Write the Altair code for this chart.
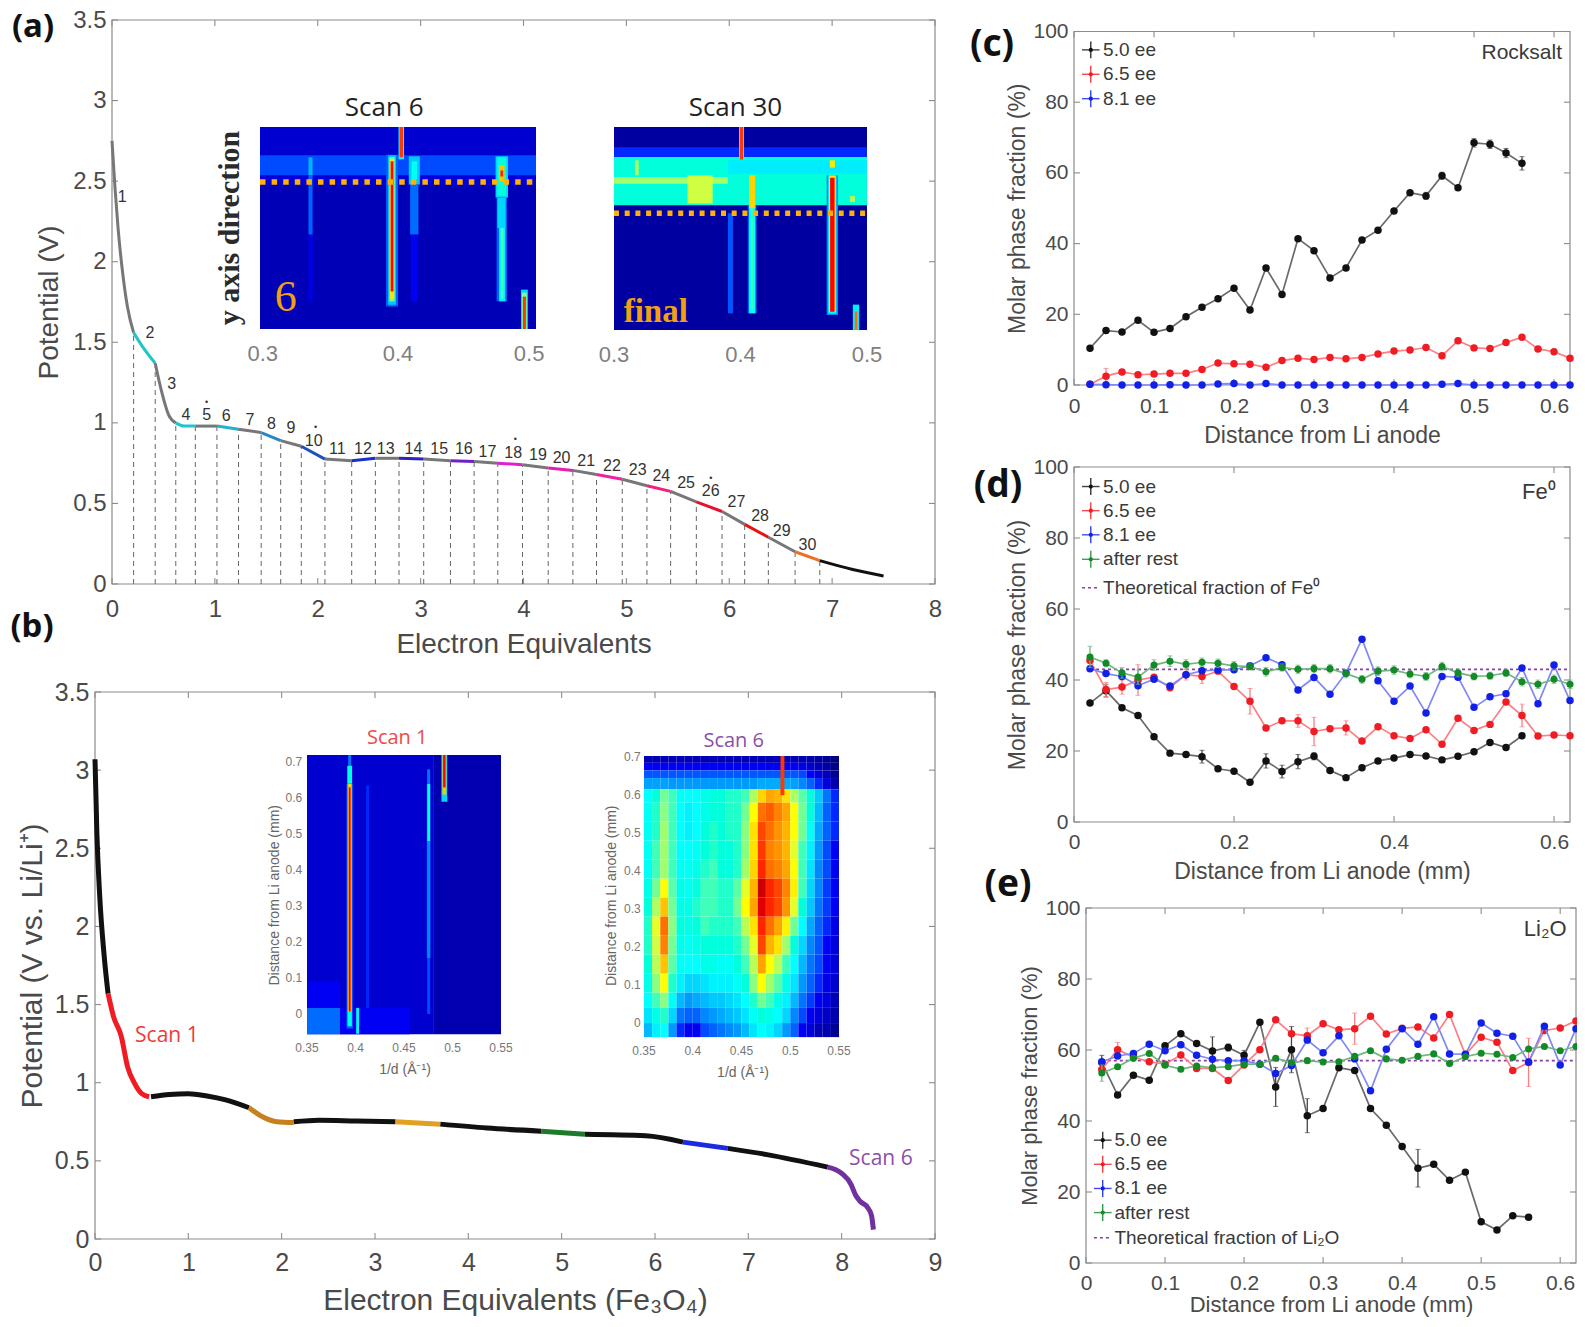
import altair as alt
import pandas as pd

W, H = 1569, 1311
SANS = "Liberation Sans"
INK = "#4a4a4a"
FRAME = "#8c8c8c"

# ---------- panel (a) ----------
a_bound_x = [0.21,0.42,0.62,0.81,1.02,1.23,1.45,1.64,1.84,2.07,2.33,2.56,2.79,3.03,3.29,3.52,3.75,3.99,4.24,4.48,4.71,4.96,5.2,5.43,5.68,5.93,6.15,6.38,6.64,6.88]
a_bound_y = [1.56,1.37,1.0,0.98,0.98,0.96,0.94,0.89,0.855,0.775,0.765,0.78,0.78,0.775,0.765,0.76,0.75,0.74,0.72,0.705,0.68,0.65,0.61,0.575,0.51,0.45,0.37,0.29,0.2,0.145]
a_extra_x = [0,0.03,0.06,0.1,0.15,0.3,0.48,0.55,0.7,7.2,7.5]
a_extra_y = [2.75,2.45,2.2,1.95,1.72,1.47,1.2,1.05,0.98,0.09,0.05]
a_seg_colors = ["#777777","#1fc5c9","#777777","#1fc5c9","#777777","#22b0cc","#777777","#2a85c8","#777777","#2050c0","#777777","#1a30c8","#777777","#3020c0","#777777","#7020c0","#777777","#e020d0","#777777","#e020b0","#777777","#f020a0","#777777","#f02080","#777777","#e81030","#777777","#e81010","#777777","#f07020","#111111"]
a_num_x = [0.10,0.37,0.58,0.72,0.92,1.11,1.34,1.55,1.74,1.96,2.19,2.44,2.66,2.93,3.18,3.42,3.65,3.90,4.14,4.37,4.61,4.86,5.11,5.34,5.58,5.82,6.07,6.30,6.51,6.76]
a_num_y = [2.40,1.56,1.24,1.05,1.05,1.04,1.02,0.995,0.965,0.89,0.835,0.84,0.84,0.84,0.835,0.835,0.82,0.81,0.80,0.78,0.765,0.735,0.71,0.67,0.625,0.58,0.51,0.42,0.33,0.245]
a_star_x = [0.92,1.98,3.92,5.82]
a_star_y = [1.13,0.975,0.897,0.66]

# ---------- panel (b) ----------
b_segments = [
    ("#111111",[0,0.02,0.05,0.1,0.14],[3.07,2.6,2.2,1.8,1.57]),
    ("#f01c24",[0.14,0.2,0.28,0.35,0.42,0.5,0.58],[1.57,1.42,1.3,1.1,1.0,0.93,0.91]),
    ("#111111",[0.6,0.8,1,1.2,1.4,1.65],[0.91,0.925,0.93,0.915,0.89,0.84]),
    ("#c87f1e",[1.65,1.8,1.95,2.13],[0.84,0.78,0.75,0.745]),
    ("#111111",[2.13,2.4,2.8,3.22],[0.75,0.76,0.755,0.75]),
    ("#e0a020",[3.22,3.7],[0.75,0.735]),
    ("#111111",[3.7,4.2,4.78],[0.735,0.71,0.69]),
    ("#1d7a28",[4.78,5.25],[0.69,0.67]),
    ("#111111",[5.25,5.9,6.3],[0.67,0.66,0.62]),
    ("#1a2be0",[6.3,6.78],[0.62,0.58]),
    ("#111111",[6.78,7.2,7.85],[0.58,0.54,0.46]),
    ("#7030a0",[7.85,8.0,8.1,8.15,8.2,8.28,8.32,8.34],[0.46,0.42,0.35,0.28,0.24,0.2,0.15,0.06]),
]

# ---------- panels (c), (d), (e) ----------
dist = [0.02,0.04,0.06,0.08,0.10,0.12,0.14,0.16,0.18,0.20,0.22,0.24,0.26,0.28,0.30,0.32,0.34,0.36,0.38,0.40,0.42,0.44,0.46,0.48,0.50,0.52,0.54,0.56,0.58,0.60,0.62]
c_black = [10.4,15.4,15.0,18.3,14.9,16.0,19.3,22.0,24.4,27.4,21.2,33.1,25.6,41.4,38.0,30.3,33.1,41.0,43.8,49.2,54.4,53.5,59.2,55.8,68.5,68.1,65.6,62.7]
c_red = [0.2,2.5,3.7,2.9,3.1,3.3,3.3,4.4,6.2,6.0,5.9,5.0,6.9,7.6,7.2,7.8,7.4,7.8,8.8,9.6,9.9,10.6,8.3,12.5,10.5,10.3,12.0,13.5,10.2,9.4,7.6]
c_blue = [0.2,0.1,0,0,0,0.1,0,0,0.3,0.4,0,0.4,0,0,0,0,0,0,0,0,0,0,0.2,0.4,0,0,0,0,0,0,0]
c_err_black = {24:1.2,25:1.2,26:1.3,27:1.9,21:1,22:1}
c_err_red = {1:2.2}
d_black = [33.5,37.0,32.2,30.0,24.0,19.4,19.0,18.4,15.0,14.3,11.2,17.2,14.2,17.0,18.5,14.5,12.5,15.3,17.2,18.0,19.0,18.6,17.5,18.5,19.8,22.4,21.0,24.3]
d_red = [45.5,37.3,38.0,40.0,40.8,37.8,41.5,41.0,42.5,38.2,34.0,26.5,28.5,28.5,25.5,26.3,26.5,22.8,26.8,24.3,23.5,26.0,21.9,29.2,25.8,27.5,33.8,30.0,24.2,24.5,24.3]
d_blue = [43.2,41.8,41.0,38.4,40.2,38.3,41.5,42.6,42.8,42.9,44.0,46.3,44.3,37.2,40.7,36.0,42.0,51.5,39.8,34.0,38.3,30.7,41.0,40.8,32.3,35.3,36.1,43.4,33.3,44.2,34.2]
d_green = [46.5,44.7,42.0,40.8,44.2,45.3,44.4,45.0,44.7,44.0,43.8,42.3,43.5,43.0,43.2,43.2,41.8,40.2,42.5,42.8,41.7,41.0,43.8,42.0,41.0,41.2,42.0,39.5,38.8,40.2,38.8]
d_err_black = {1:1.8,7:1.8,11:2,12:1.8,13:2,14:1}
d_err_red = {0:1.5,1:2,2:2,3:4.3,6:1.5,7:2,10:3.6,13:1.8,14:4,16:2,27:3.2}
d_err_green = {0:3,1:1,2:1.5,3:2,4:1.5,5:1.5,6:1.3,7:1.2,8:1.2,9:1.2,10:1,11:1.2,12:1,13:1.2,14:1.2,15:1.2,16:1.2,17:1.1,18:1.2,19:1.2,20:1.1,21:1.1,22:1.2,23:1.1,24:1,25:1,26:1,27:1.2,28:1.2,29:1.2,30:1.2}
e_black = [56.5,47.3,52.9,51.5,61.2,64.6,61.8,59.7,60.7,58.5,67.8,49.6,60.1,41.5,43.5,55.0,54.2,43.5,38.8,32.8,26.7,27.8,23.3,25.6,11.6,9.3,13.3,12.9]
e_red = [54.5,60.1,58.0,56.7,56.0,58.6,54.8,54.8,51.4,55.8,60.1,68.5,64.6,64.0,67.4,65.7,66.0,69.5,64.5,66.1,66.5,63.4,70.0,58.7,63.6,62.2,54.2,56.5,65.5,66.2,68.2]
e_blue = [56.7,58.3,59.0,61.6,59.8,61.5,58.5,57.4,57.0,57.0,56.0,53.4,55.6,62.8,59.2,64.0,57.5,48.5,60.2,66.0,61.6,69.4,58.9,58.8,67.6,64.7,63.9,56.6,66.7,55.8,66.0]
e_green = [53.5,55.3,57.7,59.0,55.7,54.6,55.5,55.0,55.3,56.0,56.0,57.7,56.4,57.0,56.6,56.7,58.2,59.8,57.5,57.1,58.2,58.9,56.2,58.1,59.1,58.8,57.9,60.3,61.0,59.8,61.0]
e_err_black = {0:2,7:4,8:1,9:1.4,11:5.5,12:6.5,13:4.8,20:5.3}
e_err_red = {1:2,13:2.2,16:4.4,27:6.8}
e_err_green = {0:2.3}

# ---------- heat-map insets: (centre, width, y from, y to, intensity) ----------
scan6a = [(0.4,0.2,0,1,0.05),(0.4,0.2,0.86,1,0.07),(0.4,0.2,0.76,0.86,0.14),(0.4,0.2,0.71,0.76,0.08),
 (0.3366,0.003,0.76,0.85,0.25),(0.3366,0.003,0.467,0.76,0.16),(0.3366,0.003,0.137,0.467,0.09),
 (0.4118,0.008,0.715,0.855,0.28),(0.4118,0.004,0.74,0.83,0.38),(0.4118,0.006,0.467,0.715,0.17),(0.4118,0.005,0.137,0.467,0.1),
 (0.3957,0.0087,0.112,0.863,0.16),(0.3957,0.0058,0.12,0.86,0.28),(0.3957,0.0039,0.137,0.85,0.5),(0.3957,0.0029,0.15,0.84,0.66),(0.3957,0.002,0.186,0.83,0.87),
 (0.4024,0.004,0.84,1,0.36),(0.4024,0.0024,0.85,1,0.85),
 (0.4752,0.009,0.65,0.855,0.3),(0.4752,0.0065,0.66,0.85,0.42),(0.4752,0.004,0.73,0.81,0.7),(0.4752,0.002,0.755,0.785,0.86),
 (0.4752,0.0075,0.137,0.65,0.16),(0.475,0.006,0.5,0.65,0.3),(0.4755,0.0045,0.137,0.5,0.34),(0.4755,0.002,0.15,0.5,0.46),
 (0.4916,0.005,0,0.195,0.3),(0.4916,0.0035,0,0.18,0.5),(0.4916,0.0022,0,0.16,0.85)]
scan30 = [(0.4,0.2,0,1,0.03),(0.4,0.2,0.852,0.9,0.12),(0.4,0.2,0.615,0.852,0.42),(0.445,0.11,0.77,0.836,0.33),
 (0.345,0.09,0.72,0.754,0.54),(0.368,0.02,0.623,0.762,0.58),(0.318,0.003,0.762,0.836,0.55),(0.4885,0.004,0.63,0.66,0.55),
 (0.392,0.004,0.082,0.575,0.15),(0.4008,0.004,0.836,1,0.35),(0.4008,0.0024,0.84,1,0.85),
 (0.4092,0.007,0.082,0.615,0.16),(0.4092,0.005,0.082,0.615,0.37),(0.4092,0.002,0.1,0.615,0.45),(0.4092,0.005,0.6,0.762,0.68),
 (0.4726,0.009,0.074,0.762,0.2),(0.4726,0.0065,0.08,0.762,0.38),(0.4726,0.005,0.09,0.76,0.65),(0.4726,0.0035,0.09,0.75,0.87),(0.4726,0.004,0.8,0.836,0.65),
 (0.4913,0.005,0,0.125,0.33),(0.4913,0.002,0,0.09,0.8)]
scan1 = [(0.415,0.13,-0.056,0.72,0.07),(0.515,0.07,-0.056,0.72,0.045),(0.367,0.034,-0.056,0.017,0.17),(0.42,0.072,-0.056,0.017,0.1),(0.367,0.034,0.017,0.09,0.1),
 (0.4125,0.003,0.017,0.635,0.12),(0.4754,0.003,0.64,0.68,0.18),(0.4754,0.004,0.155,0.64,0.14),(0.4754,0.003,0.48,0.64,0.36),(0.4754,0.003,0.155,0.48,0.2),(0.4754,0.003,0,0.155,0.14),
 (0.394,0.003,0.68,0.72,0.18),(0.394,0.005,0.64,0.69,0.42),(0.394,0.0065,-0.04,0.64,0.16),(0.394,0.0045,-0.034,0.64,0.4),(0.394,0.0032,0.007,0.64,0.68),(0.394,0.002,0.007,0.63,0.87),
 (0.4022,0.003,-0.055,0.017,0.35),(0.4916,0.006,0.59,0.72,0.3),(0.4916,0.004,0.61,0.72,0.7),(0.4916,0.0025,0.63,0.72,0.87)]
s6b_col_edges = [0.35,0.3583,0.3667,0.375,0.3833,0.3917,0.4,0.4083,0.4167,0.425,0.4333,0.4417,0.45,0.4583,0.4667,0.475,0.4833,0.4917,0.5,0.5083,0.5167,0.525,0.5333,0.5417,0.55]
s6b_row_edges = [0.703,0.685,0.665,0.645,0.615,0.58,0.53,0.48,0.43,0.38,0.33,0.28,0.23,0.18,0.13,0.08,0.04,0,-0.037]
s6b_grid = [
 [.05,.05,.05,.05,.05,.05,.05,.05,.05,.05,.05,.05,.05,.05,.05,.05,.05,.05,.05,.05,.04,.03,.02,.0],
 [.1,.1,.1,.1,.1,.1,.1,.1,.1,.1,.1,.1,.1,.1,.1,.1,.1,.1,.1,.09,.07,.05,.03,.01],
 [.15,.15,.15,.15,.15,.15,.15,.15,.15,.15,.15,.15,.15,.15,.15,.15,.15,.15,.15,.14,.11,.08,.05,.02],
 [.23,.23,.23,.22,.22,.22,.22,.22,.22,.22,.22,.22,.22,.22,.24,.24,.24,.24,.23,.2,.16,.12,.08,.04],
 [.36,.42,.5,.46,.38,.36,.36,.4,.42,.42,.44,.44,.46,.55,.68,.74,.72,.66,.55,.48,.42,.28,.18,.12],
 [.38,.44,.52,.46,.36,.34,.36,.4,.42,.42,.44,.44,.5,.62,.8,.82,.78,.74,.62,.5,.42,.26,.16,.12],
 [.38,.44,.54,.46,.36,.34,.36,.42,.44,.42,.44,.44,.52,.66,.84,.8,.76,.72,.62,.5,.38,.24,.16,.12],
 [.38,.46,.54,.46,.36,.36,.38,.42,.44,.42,.42,.44,.52,.66,.85,.78,.76,.72,.6,.46,.34,.22,.14,.1],
 [.38,.46,.54,.46,.38,.38,.4,.44,.46,.42,.42,.44,.54,.68,.86,.8,.78,.74,.62,.46,.32,.2,.14,.1],
 [.4,.5,.62,.48,.4,.38,.42,.46,.46,.44,.44,.48,.6,.72,.92,.86,.84,.78,.64,.46,.3,.2,.13,.1],
 [.42,.55,.7,.5,.4,.4,.44,.46,.46,.44,.44,.5,.62,.74,.9,.86,.84,.76,.6,.42,.28,.18,.13,.1],
 [.44,.6,.8,.52,.42,.4,.42,.46,.44,.44,.44,.46,.56,.66,.86,.8,.74,.64,.5,.36,.24,.16,.12,.09],
 [.44,.58,.78,.5,.4,.38,.4,.42,.42,.42,.42,.44,.5,.6,.84,.72,.66,.54,.42,.3,.2,.15,.11,.08],
 [.42,.56,.7,.48,.38,.36,.36,.4,.4,.38,.38,.42,.46,.56,.74,.62,.56,.46,.36,.26,.18,.14,.1,.08],
 [.4,.52,.62,.44,.34,.3,.3,.32,.34,.34,.34,.38,.42,.52,.62,.54,.48,.4,.32,.22,.16,.12,.09,.07],
 [.36,.46,.52,.38,.26,.22,.24,.26,.28,.28,.3,.32,.36,.44,.5,.46,.4,.34,.26,.18,.13,.1,.08,.05],
 [.32,.4,.44,.3,.18,.16,.16,.2,.22,.24,.26,.28,.32,.38,.42,.4,.36,.3,.2,.14,.1,.08,.06,.04],
 [.26,.34,.36,.22,.12,.1,.1,.14,.16,.18,.2,.22,.26,.32,.36,.34,.3,.22,.16,.1,.08,.05,.04,.02]]
s6b_streak = [(0.492,0.004,0.6,0.703,0.85)]

JET = alt.Scale(domain=[0,0.11,0.36,0.62,0.87,1], range=["#00007f","#0000ff","#00ffff","#ffff00","#ff0000","#7f0000"])


def sc(dom, rng):
    return alt.Scale(domain=dom, range=rng, nice=False, zero=False)


def texts(rows, sx, sy, size, color=INK, font=SANS, align="center", angle=0, weight="normal"):
    df = pd.DataFrame(rows, columns=["x", "y", "t"])
    kw = dict(angle=angle) if angle else {}
    return alt.Chart(df).mark_text(fontSize=size, color=color, font=font, align=align, baseline="middle", fontWeight=weight, **kw).encode(
        x=alt.X("x:Q", scale=sx, axis=None), y=alt.Y("y:Q", scale=sy, axis=None), text="t:N")


def frame(l, t, r, b, xdom, ydom, xticks, yticks, xtitle, ytitle, lab, tit, xpad, ypad, xlabpad=6):
    sx, sy = sc(xdom, [l, r]), sc(ydom, [b, t])
    xaxis = alt.Axis(values=xticks, orient="bottom", offset=b - H, title=xtitle, format="~f", tickSize=0, domain=False, grid=False,
                     labelFontSize=lab, labelColor=INK, labelFont=SANS, labelFlush=False, labelOverlap=False, labelPadding=xlabpad,
                     titleFontSize=tit, titleColor=INK, titleFont=SANS, titleFontWeight="normal", titlePadding=xpad)
    yaxis = alt.Axis(values=yticks, orient="left", offset=-l, title=ytitle, format="~f", tickSize=0, domain=False, grid=False,
                     labelFontSize=lab, labelColor=INK, labelFont=SANS, labelFlush=False, labelOverlap=False, labelPadding=6,
                     titleFontSize=tit, titleColor=INK, titleFont=SANS, titleFontWeight="normal", titlePadding=ypad)
    box = alt.Chart(pd.DataFrame({"x": [xdom[0]], "x2": [xdom[1]], "y": [ydom[0]], "y2": [ydom[1]]})).mark_rect(
        fillOpacity=0, stroke=FRAME, strokeWidth=1.2).encode(
        x=alt.X("x:Q", scale=sx, axis=xaxis), x2="x2:Q", y=alt.Y("y:Q", scale=sy, axis=yaxis), y2="y2:Q")
    lx, ly = 6 / abs(r - l) * (xdom[1] - xdom[0]), 6 / abs(b - t) * (ydom[1] - ydom[0])
    xt = []
    for v in xticks:
        xt += [dict(x=v, y=ydom[0], y2=ydom[0] + ly), dict(x=v, y=ydom[1] - ly, y2=ydom[1])]
    yt = []
    for v in yticks:
        yt += [dict(y=v, x=xdom[0], x2=xdom[0] + lx), dict(y=v, x=xdom[1] - lx, x2=xdom[1])]
    t1 = alt.Chart(pd.DataFrame(xt)).mark_rule(color=FRAME, strokeWidth=1.1).encode(
        x=alt.X("x:Q", scale=sx, axis=None), y=alt.Y("y:Q", scale=sy, axis=None), y2="y2:Q")
    t2 = alt.Chart(pd.DataFrame(yt)).mark_rule(color=FRAME, strokeWidth=1.1).encode(
        y=alt.Y("y:Q", scale=sy, axis=None), x=alt.X("x:Q", scale=sx, axis=None), x2="x2:Q")
    return sx, sy, box, [t1, t2]


def heat(rects, sx, sy):
    rows = [dict(x=c - w / 2, x2=c + w / 2, y=a, y2=b, v=v) for c, w, a, b, v in rects]
    return alt.Chart(pd.DataFrame(rows)).mark_rect(strokeWidth=0).encode(
        x=alt.X("x:Q", scale=sx, axis=None), x2="x2:Q", y=alt.Y("y:Q", scale=sy, axis=None), y2="y2:Q",
        color=alt.Color("v:Q", scale=JET, legend=None))


def hline(y, x1, x2, sx, sy, **kw):
    return alt.Chart(pd.DataFrame({"x": [x1], "x2": [x2], "y": [y]})).mark_rule(**kw).encode(
        x=alt.X("x:Q", scale=sx, axis=None), x2="x2:Q", y=alt.Y("y:Q", scale=sy, axis=None))


def series(vals, errs, color, sx, sy, marker=56):
    light = {"#111111": "#6a6a6a", "#f01c24": "#fb7f84", "#1020e8": "#8088f4", "#128a28": "#72b87e"}[color]
    df = pd.DataFrame({"x": dist[:len(vals)], "y": vals})
    line = alt.Chart(df).mark_line(color=light, strokeWidth=1.7).encode(
        x=alt.X("x:Q", scale=sx, axis=None), y=alt.Y("y:Q", scale=sy, axis=None))
    out = [line]
    if errs:
        ed = pd.DataFrame([dict(x=dist[i], lo=vals[i] - e, hi=vals[i] + e) for i, e in errs.items()])
        out.append(alt.Chart(ed).mark_rule(color=light if color != "#111111" else "#444444", strokeWidth=1.3).encode(
            x=alt.X("x:Q", scale=sx, axis=None), y=alt.Y("lo:Q", scale=sy, axis=None), y2="hi:Q"))
        for f in ["lo", "hi"]:
            out.append(alt.Chart(ed).mark_tick(color=light if color != "#111111" else "#444444", size=5, thickness=1, orient="horizontal").encode(
                x=alt.X("x:Q", scale=sx, axis=None), y=alt.Y(f + ":Q", scale=sy, axis=None)))
    out.append(alt.Chart(df).mark_circle(color=color, size=marker, opacity=1).encode(
        x=alt.X("x:Q", scale=sx, axis=None), y=alt.Y("y:Q", scale=sy, axis=None)))
    return out


def legend(entries, hx1, hx2, tx, sx, sy, theor=None, size=19):
    out = []
    for label, color, y in entries:
        out += [hline(y, hx1, hx2, sx, sy, color=color, strokeWidth=1.4, opacity=0.8)]
        cx = (hx1 + hx2) / 2
        d = pd.DataFrame({"x": [cx], "y": [y], "y0": [y - 2.4], "y1": [y + 2.4]})
        out.append(alt.Chart(d).mark_rule(color=color, strokeWidth=1.2).encode(
            x=alt.X("x:Q", scale=sx, axis=None), y=alt.Y("y0:Q", scale=sy, axis=None), y2="y1:Q"))
        out.append(alt.Chart(d).mark_circle(color=color, size=18, opacity=1).encode(
            x=alt.X("x:Q", scale=sx, axis=None), y=alt.Y("y:Q", scale=sy, axis=None)))
        out.append(texts([(tx, y, label)], sx, sy, size, color="#3a3a3a", align="left"))
    if theor:
        label, y = theor
        out.append(hline(y, hx1, hx2, sx, sy, color="#8a3fa8", strokeWidth=1.6, strokeDash=[3, 3]))
        out.append(texts([(tx, y, label)], sx, sy, size, color="#3a3a3a", align="left"))
    return out


# ---------- build (a) ----------
sx, sy, box_a, a_layers = frame(104, 12, 927, 576, [0, 8], [0, 3.5], [0,1,2,3,4,5,6,7,8], [0,0.5,1,1.5,2,2.5,3,3.5],
                         "Electron Equivalents", "Potential (V)", 24, 28, 9, 9, xlabpad=13)
pts = sorted(list(zip(a_bound_x, a_bound_y)) + list(zip(a_extra_x, a_extra_y)))
edges = [0] + a_bound_x + [7.5]
rows = []
for i, col in enumerate(a_seg_colors):
    for x, y in pts:
        if edges[i] <= x <= edges[i + 1]:
            rows.append(dict(x=x, y=y, s=i, c=col))
a_dash = alt.Chart(pd.DataFrame({"x": a_bound_x, "y0": [0] * len(a_bound_x), "y": a_bound_y})).mark_rule(
    color="#666666", strokeWidth=1, strokeDash=[5, 4]).encode(
    x=alt.X("x:Q", scale=sx, axis=None), y=alt.Y("y0:Q", scale=sy, axis=None), y2="y:Q")
a_line = alt.Chart(pd.DataFrame(rows)).mark_line(strokeWidth=3, interpolate="monotone").encode(
    x=alt.X("x:Q", scale=sx, axis=None), y=alt.Y("y:Q", scale=sy, axis=None),
    color=alt.Color("c:N", scale=None), detail="s:N")
a_nums = texts([(x, y, str(i + 1)) for i, (x, y) in enumerate(zip(a_num_x, a_num_y))], sx, sy, 16, color="#333333")
a_stars = texts([(x, y, "•") for x, y in zip(a_star_x, a_star_y)], sx, sy, 9, color="#333333")
panel_a = alt.layer(*a_layers, a_dash, a_line, a_nums, a_stars)

# inset Scan 6
ix, iy = sc([0.3, 0.5], [252, 528]), sc([0, 1], [321, 119])
inset_a1 = alt.layer(heat(scan6a, ix, iy),
    hline(0.728, 0.3, 0.5, ix, iy, color="#ffb000", strokeWidth=5.5, strokeDash=[5.5, 6.1]),
    texts([(0.3186, 0.153, "6")], ix, iy, 44, color="#f0a010", font="Liberation Serif"),
    texts([(0.278, 0.5, "y axis direction")], ix, iy, 30, color="#2a2a2a", font="Liberation Serif", angle=270, weight="bold"),
    texts([(0.39, 1.094, "Scan 6")], ix, iy, 26, color="#222222", font="Open Sans"),
    texts([(0.302, -0.124, "0.3"), (0.4, -0.124, "0.4"), (0.495, -0.124, "0.5")], ix, iy, 22, color="#808080"))
# inset Scan 30
jx, jy = sc([0.3, 0.5], [606, 859]), sc([0, 1], [322, 119])
inset_a2 = alt.layer(heat(scan30, jx, jy),
    hline(0.575, 0.3, 0.5, jx, jy, color="#ffb000", strokeWidth=5.5, strokeDash=[5, 5.7]),
    texts([(0.333, 0.09, "final")], jx, jy, 33, color="#f0a010", font="Liberation Serif", weight="bold"),
    texts([(0.396, 1.093, "Scan 30")], jx, jy, 26, color="#222222", font="Open Sans"),
    texts([(0.3, -0.124, "0.3"), (0.4, -0.124, "0.4"), (0.5, -0.124, "0.5")], jx, jy, 22, color="#808080"))

# ---------- build (b) ----------
bx, by, box_b, b_layers = frame(87, 684, 927, 1231, [0, 9], [0, 3.5], [0,1,2,3,4,5,6,7,8,9], [0,0.5,1,1.5,2,2.5,3,3.5],
                         "Electron Equivalents (Fe₃O₄)", "Potential (V vs. Li/Li⁺)", 25, 30, 10, 7, xlabpad=11)
rows = []
for i, (col, xs, ys) in enumerate(b_segments):
    rows += [dict(x=x, y=y, s=i, c=col) for x, y in zip(xs, ys)]
b_line = alt.Chart(pd.DataFrame(rows)).mark_line(strokeWidth=5, interpolate="monotone").encode(
    x=alt.X("x:Q", scale=bx, axis=None), y=alt.Y("y:Q", scale=by, axis=None),
    color=alt.Color("c:N", scale=None), detail="s:N")
panel_b = alt.layer(*b_layers, b_line,
    texts([(0.77, 1.3, "Scan 1")], bx, by, 21, color="#f03a3a", font="Open Sans"),
    texts([(8.42, 0.515, "Scan 6")], bx, by, 21, color="#8a50a8", font="Open Sans"))

kx, ky = sc([0.35, 0.55], [299, 493]), sc([-0.0556, 0.72], [1026, 747])
inset_b1 = alt.layer(heat(scan1, kx, ky),
    texts([(0.443, 0.767, "Scan 1")], kx, ky, 20, color="#f04a4a", font="Open Sans"),
    texts([(v, -0.0945, t) for v, t in zip([0.35,0.4,0.45,0.5,0.55], ["0.35","0.4","0.45","0.5","0.55"])], kx, ky, 12, color="#777777"),
    texts([(0.345, v, t) for v, t in zip([0,0.1,0.2,0.3,0.4,0.5,0.6,0.7], ["0","0.1","0.2","0.3","0.4","0.5","0.6","0.7"])], kx, ky, 12, color="#777777", align="right"),
    texts([(0.451, -0.1556, "1/d (Å⁻¹)")], kx, ky, 14, color="#666666"),
    texts([(0.317, 0.33, "Distance from Li anode (mm)")], kx, ky, 14, color="#666666", angle=270))

mx, my = sc([0.35, 0.55], [636, 831]), sc([-0.0367, 0.703], [1029, 748])
grid_rows = []
for ri, row in enumerate(s6b_grid):
    for ci, v in enumerate(row):
        grid_rows.append(dict(x=s6b_col_edges[ci], x2=s6b_col_edges[ci + 1], y=s6b_row_edges[ri + 1], y2=s6b_row_edges[ri], v=v))
grid = alt.Chart(pd.DataFrame(grid_rows)).mark_rect(strokeWidth=0).encode(
    x=alt.X("x:Q", scale=mx, axis=None), x2="x2:Q", y=alt.Y("y:Q", scale=my, axis=None), y2="y2:Q",
    color=alt.Color("v:Q", scale=JET, legend=None))
inset_b2 = alt.layer(grid, heat(s6b_streak, mx, my),
    texts([(0.442, 0.742, "Scan 6")], mx, my, 20, color="#8a50a8", font="Open Sans"),
    texts([(v, -0.0735, t) for v, t in zip([0.35,0.4,0.45,0.5,0.55], ["0.35","0.4","0.45","0.5","0.55"])], mx, my, 12, color="#777777"),
    texts([(0.3466, v, t) for v, t in zip([0,0.1,0.2,0.3,0.4,0.5,0.6,0.7], ["0","0.1","0.2","0.3","0.4","0.5","0.6","0.7"])], mx, my, 12, color="#777777", align="right"),
    texts([(0.4515, -0.131, "1/d (Å⁻¹)")], mx, my, 14, color="#666666"),
    texts([(0.317, 0.335, "Distance from Li anode (mm)")], mx, my, 14, color="#666666", angle=270))

# ---------- build (c) ----------
cx_, cy_, box_c, c_layers = frame(1066, 23.5, 1562, 377, [0, 0.62], [0, 100], [0,0.1,0.2,0.3,0.4,0.5,0.6], [0,20,40,60,80,100],
                           "Distance from Li anode", "Molar phase fraction (%)", 21, 23, 8, 3, xlabpad=10)
panel_c = alt.layer(*c_layers,
    *series(c_black, c_err_black, "#111111", cx_, cy_),
    *series(c_red, c_err_red, "#f01c24", cx_, cy_),
    *series(c_blue, {}, "#1020e8", cx_, cy_),
    *legend([("5.0 ee", "#111111", 94.8), ("6.5 ee", "#f01c24", 87.9), ("8.1 ee", "#1020e8", 81)], 0.01, 0.032, 0.0364, cx_, cy_),
    texts([(0.61, 93.9, "Rocksalt")], cx_, cy_, 21, color="#3a3a3a", align="right"))

# ---------- build (d) ----------
dx_, dy_, box_d, d_layers = frame(1066, 459, 1562, 814, [0, 0.62], [0, 100], [0,0.2,0.4,0.6], [0,20,40,60,80,100],
                           "Distance from Li anode (mm)", "Molar phase fraction (%)", 21, 23, 8, 3, xlabpad=9)
panel_d = alt.layer(*d_layers,
    hline(43, 0.02, 0.62, dx_, dy_, color="#8a3fa8", strokeWidth=1.6, strokeDash=[3, 3]),
    *series(d_black, d_err_black, "#111111", dx_, dy_),
    *series(d_red, d_err_red, "#f01c24", dx_, dy_),
    *series(d_blue, {}, "#1020e8", dx_, dy_),
    *series(d_green, d_err_green, "#128a28", dx_, dy_, 50),
    *legend([("5.0 ee", "#111111", 94.5), ("6.5 ee", "#f01c24", 87.7), ("8.1 ee", "#1020e8", 80.9), ("after rest", "#128a28", 74)],
            0.01, 0.032, 0.0364, dx_, dy_, theor=("Theoretical fraction of Fe⁰", 66)),
    texts([(0.581, 93, "Fe⁰")], dx_, dy_, 22, color="#3a3a3a"))

# ---------- build (e) ----------
ex_, ey_, box_e, e_layers = frame(1078, 900, 1568, 1255, [0, 0.62], [0, 100], [0,0.1,0.2,0.3,0.4,0.5,0.6], [0,20,40,60,80,100],
                           "Distance from Li anode (mm)", "Molar phase fraction (%)", 21, 22, 1, 3, xlabpad=9)
panel_e = alt.layer(*e_layers,
    hline(57, 0.02, 0.62, ex_, ey_, color="#8a3fa8", strokeWidth=1.6, strokeDash=[3, 3]),
    *series(e_black, e_err_black, "#111111", ex_, ey_),
    *series(e_red, e_err_red, "#f01c24", ex_, ey_),
    *series(e_blue, {}, "#1020e8", ex_, ey_),
    *series(e_green, e_err_green, "#128a28", ex_, ey_, 50),
    *legend([("5.0 ee", "#111111", 34.6), ("6.5 ee", "#f01c24", 27.8), ("8.1 ee", "#1020e8", 21), ("after rest", "#128a28", 14.2)],
            0.01, 0.0324, 0.036, ex_, ey_, theor=("Theoretical fraction of Li₂O", 7.1)),
    texts([(0.581, 94, "Li₂O")], ex_, ey_, 22, color="#3a3a3a"))

# ---------- panel letters ----------
letter_names = ["(a)", "(b)", "(c)", "(d)", "(e)"]
letter_sizes = [33, 33, 37, 37, 37]
letter_px = [25, 24, 984, 990, 1000]
letter_py = [19, 619, 37, 478, 877]
letters = [alt.Chart(pd.DataFrame({"t": [n]})).mark_text(fontSize=s, fontWeight="bold", font="Noto Sans", color="#111111", align="center", baseline="middle").encode(
    x=alt.value(px), y=alt.value(py), text="t:N") for n, s, px, py in zip(letter_names, letter_sizes, letter_px, letter_py)]

chart = alt.layer(box_a, panel_a, inset_a1, inset_a2, box_b, panel_b, inset_b1, inset_b2,
                  box_c, panel_c, box_d, panel_d, box_e, panel_e, *letters).resolve_scale(
    x="independent", y="independent", color="independent").properties(
    width=W, height=H, padding=0, autosize=alt.AutoSizeParams(type="none"), background="white").configure_view(stroke=None)

chart.save("out.html", embed_options={"renderer": "svg", "actions": False})
